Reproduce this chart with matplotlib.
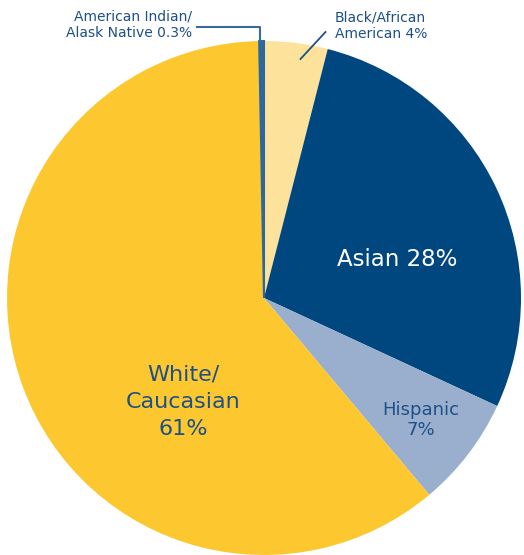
import matplotlib.pyplot as plt

# slices clockwise from 12 o'clock
groups = ['Black/African American', 'Asian', 'Hispanic', 'White/Caucasian', 'American Indian/Alask Native']
shares = [4, 28, 7, 61, 0.3]
colors = ['#fde29b', '#00467f', '#9aafce', '#fdc82f', '#2d67a0']

text_col = '#1d5088'
plt.rcParams['font.family'] = ['DejaVu Sans']

fig = plt.figure(figsize=(5.24, 5.55), dpi=100)
ax = fig.add_axes([0, 0, 1, 1])

H = 555
cx, cy, r = 264, 298, 257

wedges, _ = ax.pie(shares, colors=colors, startangle=90, counterclock=False,
                   center=(cx, H - cy), radius=r,
                   wedgeprops=dict(linewidth=0))
# the tiny slice gets a thin outline so it stays visible
wedges[4].set_edgecolor(colors[4])
wedges[4].set_linewidth(1.5)

ax.set_xlim(0, 524)
ax.set_ylim(0, H)
ax.set_aspect('equal')
ax.axis('off')

def px(x, y):
    return x, H - y

ax.text(*px(397, 259), 'Asian 28%', color='white', fontsize=16.5,
        ha='center', va='center')
ax.text(*px(183, 402), 'White/\nCaucasian\n61%', color=text_col, fontsize=16,
        ha='center', va='center', linespacing=1.45)
ax.text(*px(421, 420), 'Hispanic\n7%', color=text_col, fontsize=13,
        ha='center', va='center', linespacing=1.2)
ax.text(*px(335, 26), 'Black/African\nAmerican 4%', color=text_col, fontsize=10,
        ha='left', va='center', linespacing=1.25)
ax.text(*px(192, 25), 'American Indian/\nAlask Native 0.3%', color=text_col, fontsize=10,
        ha='right', va='center', linespacing=1.25)

# leader lines
ax.plot([300.5, 325.5], [H - 59, H - 32], color=text_col, lw=1.3)
ax.plot([197, 260, 260], [H - 27, H - 27, H - 42], color='#3a6a9a', lw=1.5)

fig.savefig('out.png', dpi=100)
